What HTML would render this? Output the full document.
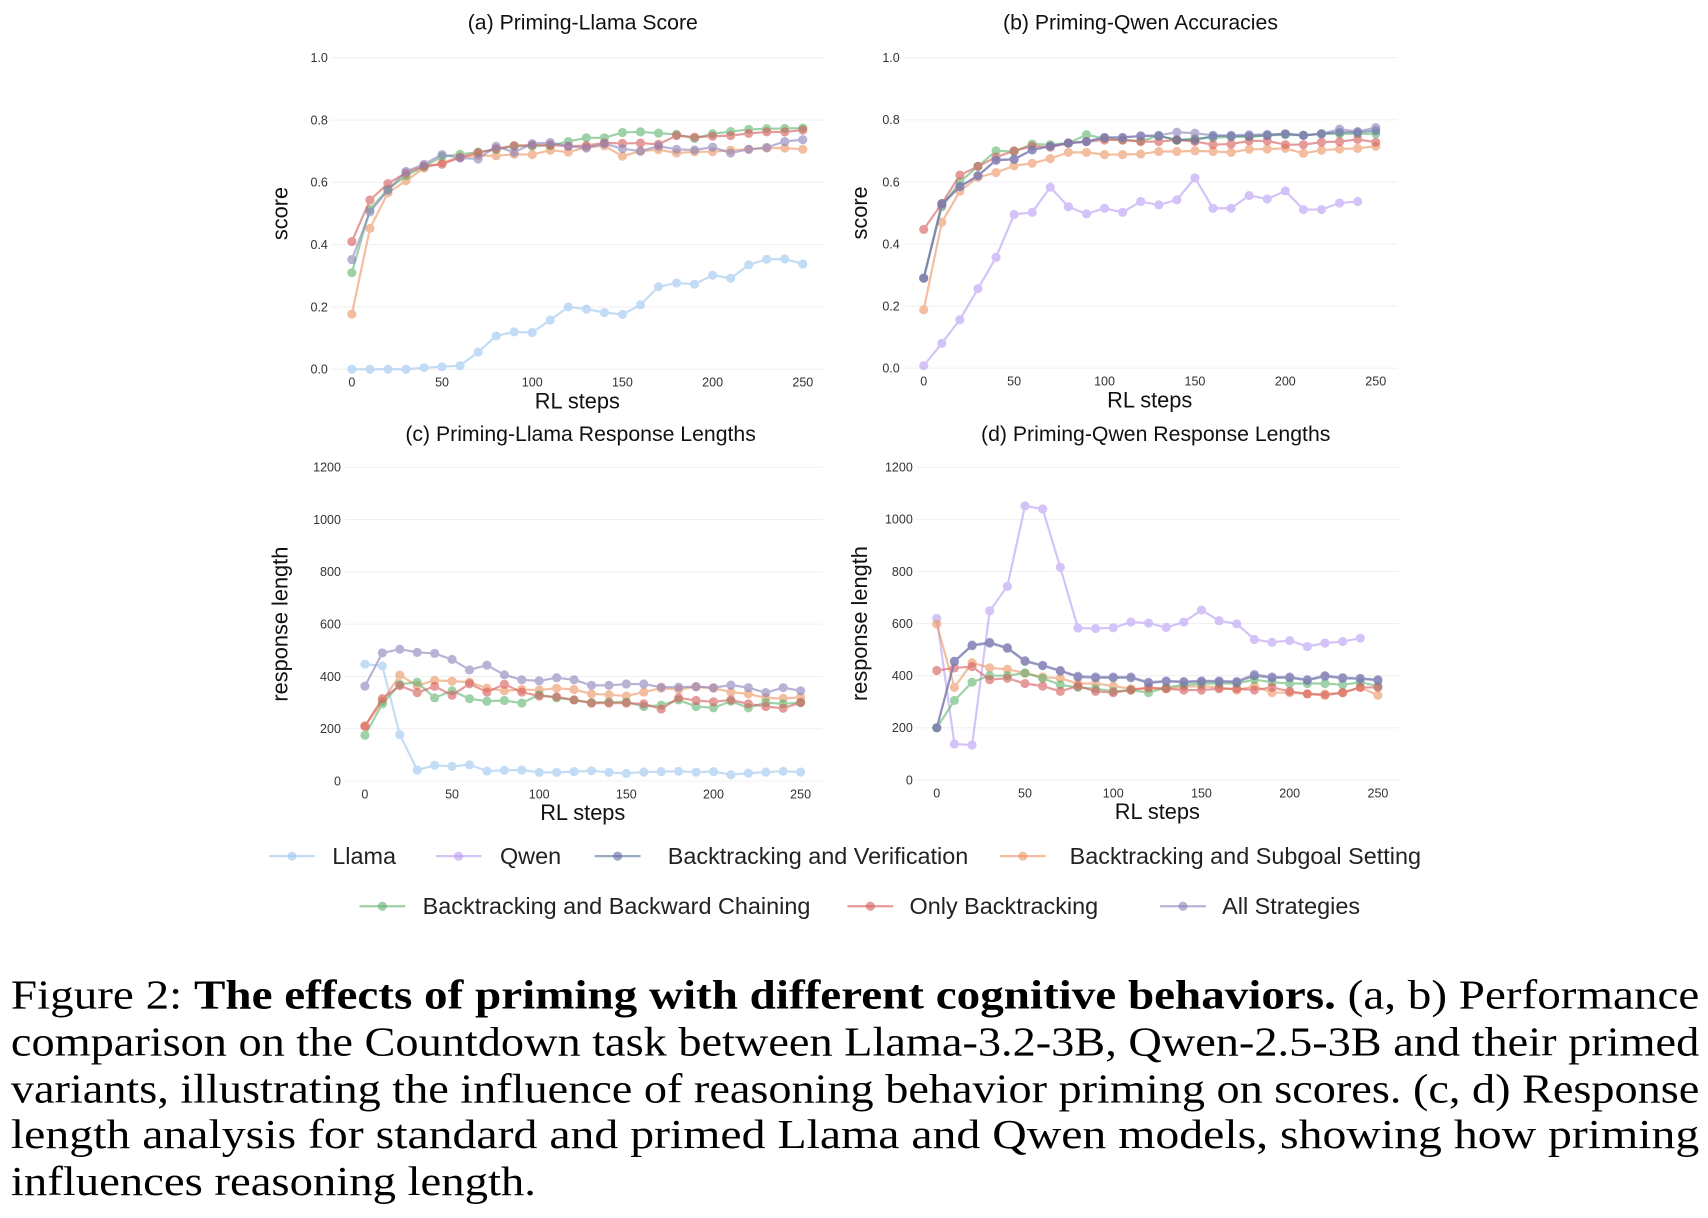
<!DOCTYPE html>
<html><head><meta charset="utf-8"><style>
html,body{margin:0;padding:0;background:#fff;}
svg{display:block;}
.tk{font-family:"Liberation Sans",sans-serif;font-size:11.5px;fill:#333;}
.ttl{font-family:"Liberation Sans",sans-serif;font-size:19.5px;fill:#111;}
.ax{font-family:"Liberation Sans",sans-serif;font-size:20px;fill:#111;}
.lg{font-family:"Liberation Sans",sans-serif;font-size:21.5px;fill:#222;}
.cap{font-family:"Liberation Serif",serif;font-size:38px;fill:#000;}
</style></head><body>
<svg id="fig" width="1708" height="1218" viewBox="0 0 1568 1118.2" xmlns="http://www.w3.org/2000/svg">
<g id="charts"></g>
<g id="legend"></g>
<g>
<text class="cap" x="10" y="926" textLength="1550" lengthAdjust="spacingAndGlyphs">Figure 2: <tspan font-weight="bold">The effects of priming with different cognitive behaviors.</tspan> (a, b) Performance</text>
<text class="cap" x="10" y="969" textLength="1550" lengthAdjust="spacingAndGlyphs">comparison on the Countdown task between Llama-3.2-3B, Qwen-2.5-3B and their primed</text>
<text class="cap" x="10" y="1012" textLength="1550" lengthAdjust="spacingAndGlyphs">variants, illustrating the influence of reasoning behavior priming on scores. (c, d) Response</text>
<text class="cap" x="10" y="1054" textLength="1550" lengthAdjust="spacingAndGlyphs">length analysis for standard and primed Llama and Qwen models, showing how priming</text>
<text class="cap" x="10" y="1097" textLength="482" lengthAdjust="spacingAndGlyphs">influences reasoning length.</text>
</g>
</svg>
<script>
const steps = [0,10,20,30,40,50,60,70,80,90,100,110,120,130,140,150,160,170,180,190,200,210,220,230,240,250];
const scoreTicks = [0,0.2,0.4,0.6,0.8,1.0];
const lenTicks = [0,200,400,600,800,1000,1200];
const xTicks = [0,50,100,150,200,250];

// Panel (a)
const aLlama = [0,0,0,0,.005,.008,.012,.055,.107,.12,.118,.158,.2,.193,.182,.176,.207,.265,.277,.273,.302,.292,.335,.353,.354,.338];
const aSub = [.177,.452,.566,.605,.646,.663,.681,.686,.685,.69,.689,.703,.697,.713,.717,.684,.7,.705,.694,.698,.698,.703,.706,.71,.71,.706];
const aBack = [.31,.513,.578,.622,.65,.683,.69,.697,.705,.716,.716,.718,.731,.743,.743,.76,.762,.758,.754,.741,.756,.763,.77,.772,.773,.774];
const aOnly = [.41,.543,.596,.63,.652,.658,.68,.695,.708,.718,.72,.72,.716,.718,.727,.725,.726,.722,.75,.745,.748,.75,.757,.762,.762,.768];
const aAll = [.352,.505,.575,.635,.658,.689,.678,.675,.716,.696,.724,.728,.716,.71,.724,.708,.7,.716,.706,.704,.713,.694,.706,.712,.731,.737];

// Panel (b)
const bQwen = [.008,.08,.156,.256,.357,.495,.502,.583,.52,.497,.515,.502,.537,.526,.542,.613,.515,.515,.556,.545,.571,.511,.511,.532,.537];
const bBV = [.29,.53,.585,.62,.67,.673,.703,.715,.725,.73,.743,.743,.748,.748,.735,.735,.748,.748,.748,.75,.755,.75,.755,.76,.76,.765];
const bSub = [.188,.47,.57,.615,.63,.652,.66,.675,.695,.695,.688,.688,.69,.698,.698,.7,.698,.695,.705,.706,.708,.692,.702,.706,.708,.715];
const bBack = [.29,.52,.6,.65,.70,.698,.722,.72,.725,.752,.74,.735,.732,.748,.735,.74,.742,.745,.745,.75,.752,.75,.755,.755,.755,.755];
const bOnly = [.447,.53,.622,.65,.68,.7,.715,.712,.725,.73,.735,.735,.73,.73,.735,.73,.72,.722,.732,.732,.72,.72,.728,.73,.737,.728];
const bAll = [.29,.525,.585,.62,.67,.673,.703,.715,.725,.73,.743,.743,.748,.75,.76,.757,.75,.75,.752,.753,.755,.75,.755,.77,.762,.775];

// Panel (c)
const cLlama = [447,440,178,42,60,56,62,38,41,42,33,33,36,39,33,29,34,36,37,34,36,24,30,34,37,34];
const cSub = [210,305,405,365,385,382,378,355,345,350,348,355,350,333,330,325,340,355,350,360,355,340,333,318,316,320];
const cBack = [175,295,370,378,318,345,315,305,308,298,330,318,310,300,302,302,285,290,310,285,280,305,280,300,295,300];
const cOnly = [210,315,365,338,362,328,372,340,370,340,325,322,310,298,298,298,295,275,318,308,303,310,295,285,278,300];
const cAll = [363,490,504,492,488,465,425,443,406,387,383,395,387,366,366,371,371,359,359,361,357,367,357,338,357,345];

// Panel (d)
const dQwen = [620,138,134,649,743,1052,1040,816,583,581,584,606,602,585,606,652,611,599,539,528,535,512,525,531,544];
const dBV = [200,455,515,525,505,455,438,418,395,392,392,392,372,378,375,378,378,375,400,392,392,382,398,390,388,382];
const dSub = [598,355,450,430,425,410,395,390,370,370,360,350,350,350,358,360,355,345,360,335,335,330,330,335,355,325];
const dBack = [200,305,375,400,400,410,390,365,355,350,340,345,335,355,365,370,370,370,385,375,370,370,370,365,375,360];
const dOnly = [420,430,435,385,390,370,360,340,360,340,335,345,355,350,345,345,350,350,345,355,340,330,325,335,355,355];
const dAll = [200,455,518,528,508,458,440,420,398,395,395,395,375,380,378,380,380,378,405,395,395,385,400,393,390,385];

const COL = {llama:"#9cc6f0", qwen:"#b89cf5", bv:"#5a6f9c", sub:"#ec9360", back:"#5fb36f", only:"#d65a5a", all:"#8a7fba"};
const NS = "http://www.w3.org/2000/svg";
function mk(tag, attrs, parent){const e=document.createElementNS(NS,tag);for(const k in attrs)e.setAttribute(k,attrs[k]);parent.appendChild(e);return e;}

function panel(cfg){
  const root=document.getElementById('charts');
  const g=mk('g',{},root);
  
  
  const xs=v=>cfg.x0+(v-0)/250*(cfg.x1-cfg.x0);
  const ys=v=>cfg.y0+(v-cfg.ymin)/(cfg.ymax-cfg.ymin)*(cfg.y1-cfg.y0);
  cfg.yticks.forEach(t=>{
    const ln=mk('line',{x1:cfg.x0-19,x2:cfg.x1+20,y1:ys(t),y2:ys(t),stroke:"#f0f0f0","stroke-width":1},g);
    
    
    const tx=mk('text',{x:cfg.x0-22,y:ys(t)+4,"text-anchor":"end",class:"tk"},g);
    tx.textContent=cfg.fmt(t);
    
    
  });
  xTicks.forEach(t=>{
    const tx=mk('text',{x:xs(t),y:cfg.y0+16,"text-anchor":"middle",class:"tk"},g);
    tx.textContent=t;
    
    
  });
  const ti=mk('text',{x:cfg.tx,y:cfg.ty,"text-anchor":"middle",class:"ttl"},g);
  ti.textContent=cfg.title;
  
  
  const xl=mk('text',{x:(cfg.x0+cfg.x1)/2,y:cfg.y0+36,"text-anchor":"middle",class:"ax"},g);
  xl.textContent="RL steps";
  
  
  const yl=mk('text',{x:0,y:0,"text-anchor":"middle",class:"ax",transform:`translate(${cfg.ylx},${(cfg.y0+cfg.y1)/2}) rotate(-90)`},g);
  yl.textContent=cfg.ytitle;
  
  
  cfg.series.forEach(s=>{
    const sg=mk('g',{opacity:0.6},g);
    
    
    const pts=s.data.map((v,i)=>xs(steps[i]).toFixed(1)+","+ys(v).toFixed(1)).join(" ");
    const pl=mk('polyline',{points:pts,fill:"none",stroke:COL[s.key],"stroke-width":2},sg);
    
    
    s.data.forEach((v,i)=>{
      const c=mk('circle',{cx:xs(steps[i]),cy:ys(v),r:4.2,fill:COL[s.key]},sg);
      
      
    });
  });
}
const f1=t=>t.toFixed(1), f0=t=>String(t);
panel({name:"chart-a",title:"(a) Priming-Llama Score",tx:535,ty:27,x0:323,x1:737,y0:339,y1:53,ymin:0,ymax:1,yticks:scoreTicks,fmt:f1,ytitle:"score",ylx:264,
  series:[{key:"llama",data:aLlama},{key:"sub",data:aSub},{key:"back",data:aBack},{key:"only",data:aOnly},{key:"all",data:aAll}]});
panel({name:"chart-b",title:"(b) Priming-Qwen Accuracies",tx:1047,ty:27,x0:848,x1:1263,y0:338,y1:53,ymin:0,ymax:1,yticks:scoreTicks,fmt:f1,ytitle:"score",ylx:796,
  series:[{key:"qwen",data:bQwen},{key:"sub",data:bSub},{key:"back",data:bBack},{key:"only",data:bOnly},{key:"bv",data:bBV},{key:"all",data:bAll}]});
panel({name:"chart-c",title:"(c) Priming-Llama Response Lengths",tx:533,ty:405,x0:335,x1:735,y0:717,y1:429,ymin:0,ymax:1200,yticks:lenTicks,fmt:f0,ytitle:"response length",ylx:264,
  series:[{key:"llama",data:cLlama},{key:"sub",data:cSub},{key:"back",data:cBack},{key:"only",data:cOnly},{key:"all",data:cAll}]});
panel({name:"chart-d",title:"(d) Priming-Qwen Response Lengths",tx:1061,ty:405,x0:860,x1:1265,y0:716,y1:429,ymin:0,ymax:1200,yticks:lenTicks,fmt:f0,ytitle:"response length",ylx:796,
  series:[{key:"qwen",data:dQwen},{key:"sub",data:dSub},{key:"back",data:dBack},{key:"only",data:dOnly},{key:"bv",data:dBV},{key:"all",data:dAll}]});

const legItems=[
 {key:"llama",label:"Llama",lx:247,tx:305,y:786},
 {key:"qwen",label:"Qwen",lx:400,tx:459,y:786},
 {key:"bv",label:"Backtracking and Verification",lx:546,tx:613,y:786},
 {key:"sub",label:"Backtracking and Subgoal Setting",lx:918,tx:982,y:786},
 {key:"back",label:"Backtracking and Backward Chaining",lx:330,tx:388,y:832},
 {key:"only",label:"Only Backtracking",lx:778,tx:835,y:832},
 {key:"all",label:"All Strategies",lx:1065,tx:1122,y:832}];
const lg=document.getElementById('legend');
legItems.forEach(it=>{
  const g=mk('g',{},lg);
  
  
  mk('line',{x1:it.lx,x2:it.lx+42,y1:it.y,y2:it.y,stroke:COL[it.key],"stroke-width":2,opacity:0.6},g);
  mk('circle',{cx:it.lx+21,cy:it.y,r:4.2,fill:COL[it.key],opacity:0.6},g);
  const t=mk('text',{x:it.tx,y:it.y+7,class:"lg"},g);
  t.textContent=it.label;
});
</script>
</body></html>
